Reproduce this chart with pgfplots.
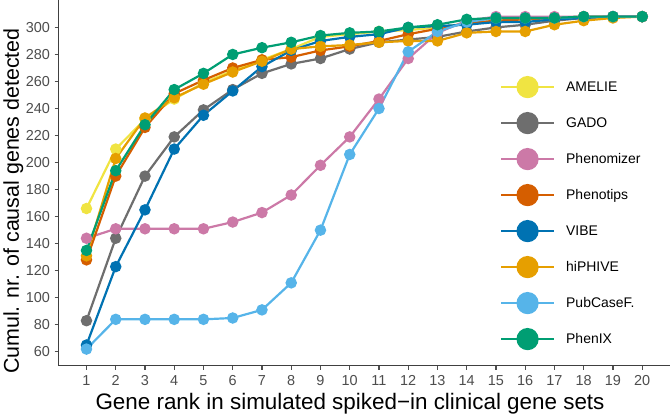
\documentclass[border=0pt]{standalone}
\usepackage{fontspec}
\setmainfont{Liberation Sans}
\usepackage{pgfplots}
\usepackage{pgfplotstable}
\pgfplotsset{compat=1.18}

\definecolor{cAMELIE}{HTML}{F0E442}
\definecolor{cGADO}{HTML}{6E6E6E}
\definecolor{cPhenomizer}{HTML}{CC79A7}
\definecolor{cPhenotips}{HTML}{D55E00}
\definecolor{cVIBE}{HTML}{0072B2}
\definecolor{chiPHIVE}{HTML}{E69F00}
\definecolor{cPubCaseF}{HTML}{56B4E9}
\definecolor{cPhenIX}{HTML}{009E73}
\definecolor{tickgrey}{HTML}{4D4D4D}

% cumulative nr. of causal genes detected, by gene rank
\pgfplotstableread{
x  AMELIE GADO Phenomizer Phenotips VIBE hiPHIVE PubCaseF PhenIX
1  166    83   144        128       65   131     62       135
2  210    144  151        190       123  203     84       194
3  232    190  151        226       165  233     84       228
4  247    219  151        251       210  248     84       254
5  259    239  151        261       235  258     84       266
6  268    254  156        270       253  267     85       280
7  276    266  163        276       271  275     91       285
8  284    273  176        278       283  284     111      289
9  293    277  198        283       290  286     150      294
10 295    284  219        286       293  287     206      296
11 297    289  247        290       295  289     240      297
12 298    291  277        295       300  290     282      300
13 300    293  296        299       301  290     297      302
14 303    297  305        303       302  296     304      306
15 305    300  308        305       304  297     307      307
16 306    302  308        306       304  297     307      307
17 307    305  308        307       306  302     307      307
18 308    307  308        308       307  305     308      308
19 308    308  308        308       308  307     308      308
20 308    308  308        308       308  308     308      308
}\datatable

\begin{document}
\begin{tikzpicture}
\begin{axis}[
  scale only axis,
  width=611.3bp, height=365.7bp,
  xmin=0.05, xmax=20.95,
  ymin=49.7, ymax=320.3,
  xtick={1,...,20},
  ytick={60,80,...,300},
  axis lines*=left,
  axis line style={black!75, line width=1.1bp},
  tick align=outside,
  major tick length=4bp,
  tick style={tickgrey, line width=1.1bp},
  ticklabel style={font=\fontsize{14.5}{16}\selectfont, text=tickgrey},
  /pgf/number format/assume math mode=true,
  /pgf/number format/1000 sep={},
  yticklabel style={inner sep=0pt, anchor=east, xshift=-4.5bp},
  xticklabel style={inner sep=0pt, anchor=north, yshift=-5.5bp},
  xlabel={Gene rank in simulated spiked\textminus in clinical gene sets},
  ylabel={Cumul. nr. of causal genes detected},
  xlabel style={font=\fontsize{22.5}{26}\selectfont, at={(axis description cs:0.4684,0)},
    anchor=base, yshift=-43.6bp, xshift=5bp},
  ylabel style={font=\fontsize{21.5}{25}\selectfont, at={(axis description cs:-0.0650,0.45)},
    anchor=base, rotate=0},
  every axis plot/.append style={line width=2.2bp, mark=*, mark size=4.6bp},
  legend image code/.code={
    \draw[line width=2.2bp] (0bp,0bp) -- (53bp,0bp);
    \fill (26.5bp,0bp) circle (10bp);
  },
  legend style={at={(0.7219,0.7922)}, anchor=north west, draw=none, fill=none,
    inner sep=0pt, outer sep=0pt, row sep=13.8bp, column sep=11bp,
    font=\fontsize{14}{16}\selectfont, nodes={inner sep=0pt}},
  legend cell align=left,
]
\addplot[color=cAMELIE, mark options={draw=none, fill=cAMELIE}] table[x=x, y=AMELIE] {\datatable};
\addlegendentry{AMELIE}
\addplot[color=cGADO, mark options={draw=none, fill=cGADO}] table[x=x, y=GADO] {\datatable};
\addlegendentry{GADO}
\addplot[color=cPhenomizer, mark options={draw=none, fill=cPhenomizer}] table[x=x, y=Phenomizer] {\datatable};
\addlegendentry{Phenomizer}
\addplot[color=cPhenotips, mark options={draw=none, fill=cPhenotips}] table[x=x, y=Phenotips] {\datatable};
\addlegendentry{Phenotips}
\addplot[color=cVIBE, mark options={draw=none, fill=cVIBE}] table[x=x, y=VIBE] {\datatable};
\addlegendentry{VIBE}
\addplot[color=chiPHIVE, mark options={draw=none, fill=chiPHIVE}] table[x=x, y=hiPHIVE] {\datatable};
\addlegendentry{hiPHIVE}
\addplot[color=cPubCaseF, mark options={draw=none, fill=cPubCaseF}] table[x=x, y=PubCaseF] {\datatable};
\addlegendentry{PubCaseF.}
\addplot[color=cPhenIX, mark options={draw=none, fill=cPhenIX}] table[x=x, y=PhenIX] {\datatable};
\addlegendentry{PhenIX}
\end{axis}
\pgfresetboundingbox
\path[use as bounding box] (-58.7bp,-49.3bp) rectangle (611.3bp,365.7bp);
\end{tikzpicture}
\end{document}
